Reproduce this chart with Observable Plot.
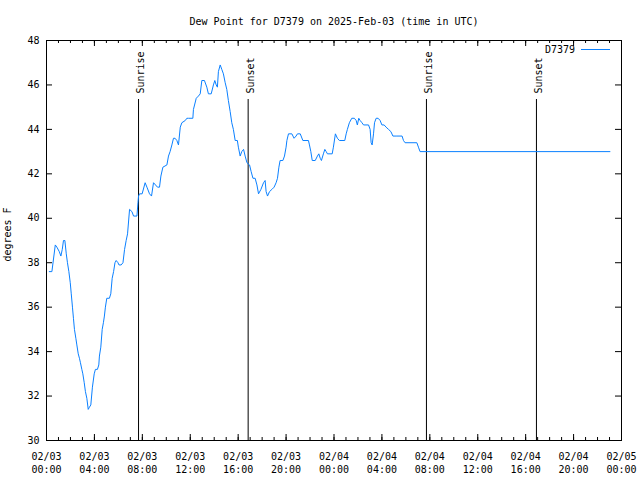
<!DOCTYPE html>
<html><head><meta charset="utf-8">
<script src="https://cdn.jsdelivr.net/npm/d3@7"></script>
<script src="https://cdn.jsdelivr.net/npm/@observablehq/plot@0.6"></script>
<style>body{margin:0;background:#fff} svg{display:block}</style>
</head><body><div id="chart"></div>
<script>
const titleText = "Dew Point for D7379 on 2025-Feb-03 (time in UTC)";
const seriesName = "D7379";
const yLabel = "degrees F";
// minutes after 2025-02-03 00:00 UTC
const minutes = [14,27,44,52,64,72,79,85,92,99,
105,112,119,124,130,135,140,147,152,159,
165,170,177,182,189,195,202,209,215,222,
230,239,245,255,262,265,272,279,285,290,
295,302,315,322,329,336,343,349,358,363,
374,383,391,399,406,416,428,436,453,458,
461,466,479,494,503,516,526,536,546,556,
566,573,583,603,611,619,628,636,644,653,
661,670,678,695,703,711,733,736,750,761,
770,778,791,803,811,825,836,843,850,856,
861,870,878,886,895,903,911,920,928,936,
945,956,961,970,978,987,995,1004,1017,1025,
1034,1045,1054,1062,1074,1087,1095,1100,1107,1117,
1129,1140,1150,1157,1164,1170,1184,1192,1200,1204,
1212,1229,1240,1250,1257,1271,1284,1312,1317,1324,
1331,1346,1357,1364,1371,1377,1387,1394,1401,1407,
1431,1437,1447,1457,1467,1494,1501,1507,1517,1529,
1542,1551,1557,1564,1571,1580,1588,1613,1621,1626,
1631,1638,1643,1651,1661,1671,1680,1691,1701,1713,
1725,1735,1755,1781,1788,1796,1855,1863,1871,2822];
const dewF = [37.6,37.6,38.8,38.7,38.5,38.3,38.6,39.0,39.0,38.4,
38.0,37.6,37.1,36.6,36.0,35.5,35.0,34.6,34.3,33.9,
33.7,33.5,33.2,33.0,32.6,32.2,31.9,31.4,31.5,31.6,
32.4,33.0,33.2,33.2,33.4,33.8,34.2,35.0,35.3,35.6,
36.0,36.4,36.4,36.6,37.3,37.6,38.0,38.1,38.0,37.9,
37.9,38.0,38.6,39.0,39.3,40.4,40.3,40.1,40.1,40.7,
41.0,41.1,41.1,41.6,41.4,41.1,41.0,41.6,41.5,41.4,
41.4,41.9,42.3,42.4,42.8,43.0,43.3,43.6,43.6,43.5,
43.3,44.1,44.3,44.4,44.5,44.5,44.5,44.9,45.4,45.5,
45.6,46.2,46.2,45.9,45.6,45.6,46.0,46.2,46.0,45.9,
46.6,46.9,46.7,46.5,46.1,45.8,45.3,44.8,44.3,44.0,
43.5,43.5,43.2,42.8,43.0,43.1,42.8,42.5,42.4,42.1,
41.8,41.8,41.5,41.1,41.3,41.6,41.7,41.2,41.0,41.2,
41.3,41.4,41.6,41.8,42.3,42.6,42.6,42.8,43.2,43.5,
43.8,43.8,43.6,43.7,43.8,43.8,43.5,43.5,43.3,43.0,
42.6,42.6,42.8,42.9,42.7,42.6,42.9,43.1,43.0,42.9,
42.9,43.2,43.8,43.6,43.5,43.5,43.8,44.0,44.3,44.5,
44.5,44.4,44.2,44.5,44.4,44.3,44.2,44.2,44.0,43.4,
43.3,43.8,44.3,44.5,44.5,44.4,44.2,44.2,44.1,44.0,
43.9,43.7,43.7,43.7,43.5,43.4,43.4,43.2,43.0,43.0];
const eventMinutes = [461, 1010, 1903, 2454];
const eventLabels = ["Sunrise", "Sunset", "Sunrise", "Sunset"];
const yTicks = [30,32,34,36,38,40,42,44,46,48];
const xStartMinutes = 0, xEndMinutes = 2880;

const start = Date.UTC(2025, 1, 3);
const toDate = m => new Date(start + m * 60000);
const data = minutes.map((m, i) => ({time: toDate(m), dew: dewF[i]}));
const events = eventMinutes.map((m, i) => ({time: toDate(m), label: eventLabels[i]}));
const x0 = toDate(xStartMinutes), x1 = toDate(xEndMinutes);
const majorX = d3.utcHour.every(4).range(x0, new Date(+x1 + 1));
const minorX = d3.utcHour.range(x0, new Date(+x1 + 1));

const W = 640, H = 480, mL = 46, mR = 19, mT = 40, mB = 40;
const iW = W - mL - mR, iH = H - mT - mB;
const lineColor = "#0a80ff";

const legend = (index, scales, values, dims) => {
  const g = d3.create("svg:g");
  const xr = dims.width - dims.marginRight;
  const y = dims.marginTop + 9.5;
  g.append("line").attr("x1", xr - 40).attr("x2", xr - 11).attr("y1", y).attr("y2", y)
    .attr("stroke", lineColor).attr("stroke-width", 1);
  g.append("text").attr("x", xr - 46).attr("y", y).attr("dy", "0.32em")
    .attr("text-anchor", "end").attr("fill", "black").text(seriesName);
  return g.node();
};

const chart = Plot.plot({
  width: W, height: H,
  marginLeft: mL, marginRight: mR, marginTop: mT, marginBottom: mB,
  style: {fontFamily: "'DejaVu Sans Mono', monospace", fontSize: "10px", background: "white", color: "black"},
  x: {type: "utc", domain: [x0, x1], label: null},
  y: {domain: [30, 48], label: null},
  marks: [
    Plot.ruleX(minorX, {insetTop: iH - 3, stroke: "black"}),
    Plot.ruleX(minorX, {insetBottom: iH - 3, stroke: "black"}),
    Plot.ruleX(majorX, {insetTop: iH - 6, stroke: "black"}),
    Plot.ruleX(majorX, {insetBottom: iH - 6, stroke: "black"}),
    Plot.ruleY(yTicks, {insetRight: iW - 6, stroke: "black"}),
    Plot.ruleY(yTicks, {insetLeft: iW - 6, stroke: "black"}),
    Plot.ruleX(events, {x: "time", insetTop: 59, stroke: "black"}),
    Plot.text(events, {x: "time", text: "label", frameAnchor: "top", rotate: -90,
      textAnchor: "start", lineAnchor: "middle", dy: 53, dx: 2.5, fill: "black"}),
    Plot.line(data, {x: "time", y: "dew", stroke: lineColor, strokeWidth: 1}),
    Plot.frame({stroke: "black"}),
    Plot.axisX(majorX, {tickSize: 0, tickPadding: 10, label: null,
      tickFormat: d3.utcFormat("%m/%d\n%H:%M"), lineHeight: 1.3}),
    Plot.axisY(yTicks, {tickSize: 0, tickPadding: 7, label: null}),
    Plot.text([yLabel], {frameAnchor: "left", rotate: -90, textAnchor: "middle",
      lineAnchor: "middle", dx: -39, dy: -6, fill: "black"}),
    Plot.text([titleText], {frameAnchor: "top", lineAnchor: "middle", dy: -19, fill: "black"}),
    legend
  ]
});
document.getElementById("chart").appendChild(chart);
</script>
</body></html>
